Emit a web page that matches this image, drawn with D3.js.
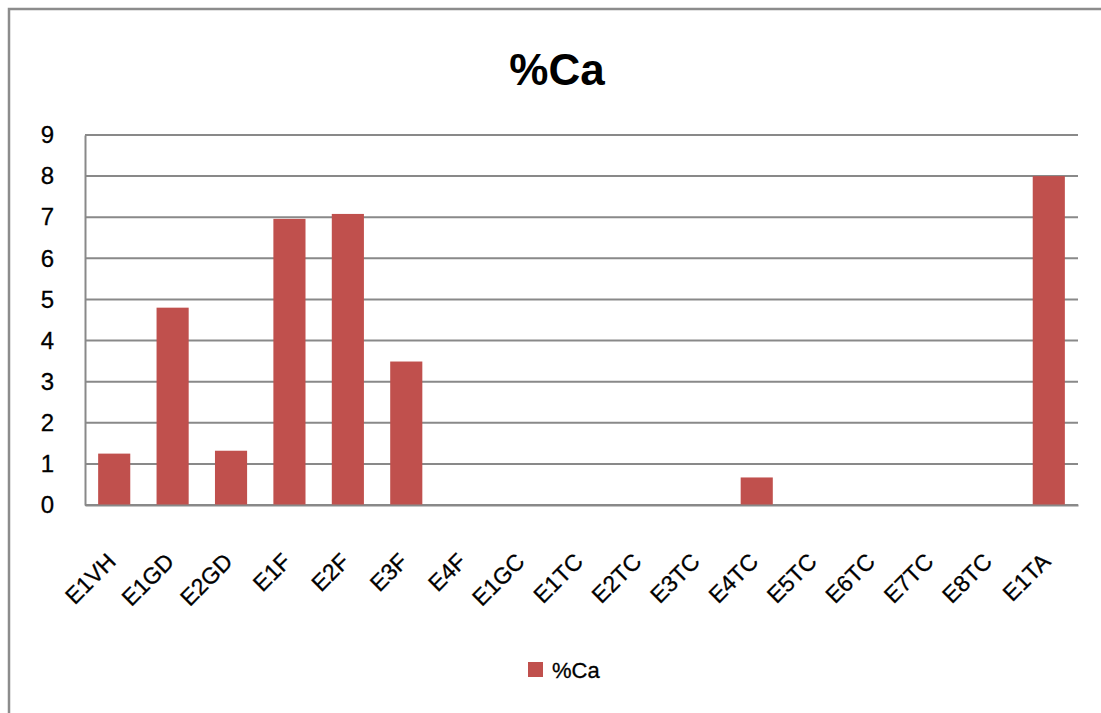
<!DOCTYPE html>
<html>
<head>
<meta charset="utf-8">
<script src="https://cdn.jsdelivr.net/npm/d3@7/dist/d3.min.js"></script>
<style>
  html, body { margin: 0; padding: 0; background: #fff; }
  svg { display: block; font-family: "Liberation Sans", Arial, sans-serif; }
</style>
</head>
<body>
<svg id="chart" width="1101" height="713"></svg>
<script>
// Calcium content per sample
const categories = ["E1VH", "E1GD", "E2GD", "E1F", "E2F", "E3F", "E4F", "E1GC", "E1TC",
                    "E2TC", "E3TC", "E4TC", "E5TC", "E6TC", "E7TC", "E8TC", "E1TA"];
const caValues = [1.25, 4.8, 1.32, 6.96, 7.08, 3.49, 0, 0, 0, 0, 0, 0.67, 0, 0, 0, 0, 8.0];
const yTicks = [0, 1, 2, 3, 4, 5, 6, 7, 8, 9];
const seriesName = "%Ca";
const chartTitle = "%Ca";

const svg = d3.select("#chart");
const W = 1101, H = 713;
const plot = { left: 85, right: 1078, top: 135, bottom: 505 };
const gridColor = "#898989";
const barColor = "#C0504D";

// Outer chart frame (left and top edges visible)
svg.append("rect")
  .attr("x", 9).attr("y", 9)
  .attr("width", W + 20).attr("height", H + 20)
  .attr("fill", "#fff")
  .attr("stroke", "#8c8c8c").attr("stroke-width", 2.5);

const x = d3.scaleBand()
  .domain(categories)
  .range([plot.left, plot.right])
  .paddingInner(0.45)
  .paddingOuter(0.225);

const y = d3.scaleLinear()
  .domain([0, 9])
  .range([plot.bottom, plot.top]);

// Title
svg.append("text")
  .attr("x", 557).attr("y", 85)
  .attr("text-anchor", "middle")
  .attr("font-weight", "bold")
  .attr("font-size", 44)
  .attr("fill", "#000")
  .text(chartTitle);

// Horizontal gridlines
svg.append("g")
  .selectAll("line")
  .data(yTicks)
  .join("line")
  .attr("x1", plot.left).attr("x2", plot.right)
  .attr("y1", d => y(d)).attr("y2", d => y(d))
  .attr("stroke", gridColor).attr("stroke-width", 2);

// Y axis
const yAxis = svg.append("g")
  .attr("transform", `translate(${plot.left},0)`)
  .call(d3.axisLeft(y).tickValues(yTicks).tickSize(0).tickPadding(0).tickFormat(d3.format("d")));
yAxis.select(".domain").attr("stroke", gridColor).attr("stroke-width", 2);
yAxis.selectAll("text")
  .attr("x", -31)
  .attr("font-size", 24)
  .attr("fill", "#000")
  .attr("stroke", "#000").attr("stroke-width", 0.3)
  .style("font-family", "'Liberation Sans', Arial, sans-serif");

// Bars
svg.append("g")
  .selectAll("rect")
  .data(categories.map((c, i) => ({ c, v: caValues[i] })).filter(d => d.v > 0))
  .join("rect")
  .attr("x", d => x(d.c))
  .attr("width", x.bandwidth())
  .attr("y", d => y(d.v))
  .attr("height", d => y(0) - y(d.v))
  .attr("fill", barColor);

// X axis
const xAxis = svg.append("g")
  .attr("transform", `translate(0,${plot.bottom})`)
  .call(d3.axisBottom(x).tickSize(0).tickPadding(0));
xAxis.select(".domain").attr("stroke", gridColor).attr("stroke-width", 2);
xAxis.selectAll("text")
  .attr("text-anchor", "end")
  .attr("font-size", 23)
  .attr("fill", "#000")
  .attr("stroke", "#000").attr("stroke-width", 0.3)
  .style("font-family", "'Liberation Sans', Arial, sans-serif")
  .attr("dy", null)
  .attr("y", null)
  .attr("transform", "translate(3,58) rotate(-45)");

// Legend
const legend = svg.append("g").attr("transform", "translate(528,662)");
legend.append("rect")
  .attr("x", 0).attr("y", 0)
  .attr("width", 15).attr("height", 15)
  .attr("fill", barColor);
legend.append("text")
  .attr("x", 24).attr("y", 16)
  .attr("font-size", 22)
  .attr("fill", "#000")
  .attr("stroke", "#000").attr("stroke-width", 0.3)
  .text(seriesName);
</script>
</body>
</html>
